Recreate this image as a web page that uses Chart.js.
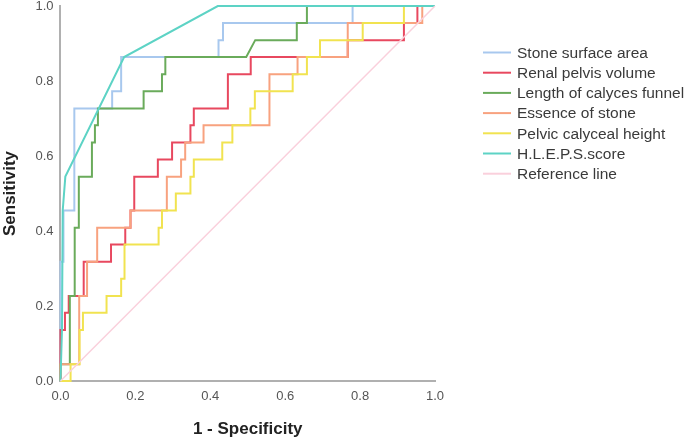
<!DOCTYPE html>
<html>
<head>
<meta charset="utf-8">
<script src="https://cdn.jsdelivr.net/npm/chart.js@4.4.1/dist/chart.umd.min.js"></script>
<style>
  body { margin: 0; background: #fff; }
  #wrap { width: 685px; height: 441px; }
</style>
</head>
<body>
<div id="wrap"><canvas id="rocChart" width="685" height="441"></canvas></div>
<script>
// ROC curves, 1 - specificity on x, sensitivity on y

const seriesNames = ['Stone surface area', 'Renal pelvis volume', 'Length of calyces funnel',
    'Essence of stone', 'Pelvic calyceal height', 'H.L.E.P.S.score', 'Reference line'];
const seriesColours = ['#a8c8ee', '#e8485f', '#6aab5b', '#f8a27f', '#f1e350', '#5dd3c5', '#fad0dc'];
const tickValues = [0, 0.2, 0.4, 0.6, 0.8, 1.0];

const stoneX = [0, 0, 0.008, 0.008, 0.037, 0.037, 0.138, 0.138, 0.162, 0.162, 0.422, 0.422, 0.434, 0.434, 0.78, 0.78, 1];
const stoneY = [0, 0.318, 0.318, 0.455, 0.455, 0.727, 0.727, 0.773, 0.773, 0.864, 0.864, 0.909, 0.909, 0.955, 0.955, 1, 1];

const renalX = [0, 0, 0.012, 0.012, 0.022, 0.022, 0.062, 0.062, 0.135, 0.135, 0.173, 0.173, 0.187, 0.187, 0.197, 0.197,
    0.26, 0.26, 0.298, 0.298, 0.347, 0.347, 0.356, 0.356, 0.447, 0.447, 0.508, 0.508, 0.767, 0.767, 0.917, 0.917, 0.953, 0.953, 1];
const renalY = [0, 0.136, 0.136, 0.182, 0.182, 0.227, 0.227, 0.318, 0.318, 0.364, 0.364, 0.409, 0.409, 0.455, 0.455, 0.545,
    0.545, 0.591, 0.591, 0.636, 0.636, 0.682, 0.682, 0.727, 0.727, 0.818, 0.818, 0.864, 0.864, 0.909, 0.909, 0.955, 0.955, 1, 1];

const funnelX = [0, 0, 0.025, 0.025, 0.038, 0.038, 0.049, 0.049, 0.084, 0.084, 0.092, 0.092, 0.1, 0.1, 0.222, 0.222,
    0.271, 0.271, 0.28, 0.28, 0.496, 0.52, 0.631, 0.631, 0.658, 0.658, 1];
const funnelY = [0, 0.045, 0.045, 0.227, 0.227, 0.409, 0.409, 0.545, 0.545, 0.636, 0.636, 0.682, 0.682, 0.727, 0.727, 0.773,
    0.773, 0.818, 0.818, 0.864, 0.864, 0.909, 0.909, 0.955, 0.955, 1, 1];

const essenceX = [0, 0, 0.05, 0.05, 0.071, 0.071, 0.098, 0.098, 0.187, 0.187, 0.284, 0.284, 0.322, 0.322, 0.333, 0.333,
    0.382, 0.382, 0.558, 0.558, 0.633, 0.633, 0.767, 0.767, 0.966, 0.966, 1];
const essenceY = [0, 0.045, 0.045, 0.227, 0.227, 0.318, 0.318, 0.409, 0.409, 0.455, 0.455, 0.545, 0.545, 0.591, 0.591, 0.636,
    0.636, 0.682, 0.682, 0.818, 0.818, 0.864, 0.864, 0.955, 0.955, 1, 1];

const heightX = [0, 0.027, 0.027, 0.051, 0.051, 0.06, 0.06, 0.123, 0.123, 0.162, 0.162, 0.171, 0.171, 0.262, 0.262, 0.271,
    0.271, 0.308, 0.308, 0.347, 0.347, 0.356, 0.356, 0.432, 0.432, 0.459, 0.459, 0.507, 0.507, 0.519, 0.519, 0.62, 0.62,
    0.658, 0.658, 0.693, 0.693, 0.807, 0.807, 0.917, 0.917, 1];
const heightY = [0, 0, 0.045, 0.045, 0.136, 0.136, 0.182, 0.182, 0.227, 0.227, 0.273, 0.273, 0.364, 0.364, 0.409, 0.409,
    0.455, 0.455, 0.5, 0.5, 0.545, 0.545, 0.591, 0.591, 0.636, 0.636, 0.682, 0.682, 0.727, 0.727, 0.773, 0.773, 0.818,
    0.818, 0.864, 0.864, 0.909, 0.909, 0.955, 0.955, 1, 1];

const scoreX = [0, 0.004, 0.006, 0.013, 0.17, 0.42, 1];
const scoreY = [0, 0.136, 0.455, 0.545, 0.864, 1, 1];

const refX = [0, 1];
const refY = [0, 1];

function toPoints(xs, ys){
    var pts = [];
    for(var i=0; i<xs.length; i++){
        pts.push({x: xs[i], y: ys[i]});
    }
    return pts;
}

const allX = [stoneX, renalX, funnelX, essenceX, heightX, scoreX, refX];
const allY = [stoneY, renalY, funnelY, essenceY, heightY, scoreY, refY];

var datasets = [];
for(var i=0; i<seriesNames.length; i++){
    datasets.push({
        label: seriesNames[i],
        data: toPoints(allX[i], allY[i]),
        borderColor: seriesColours[i],
        backgroundColor: seriesColours[i],
        borderWidth: i == 6 ? 1.5 : 2,
        pointRadius: 0,
        tension: 0,
        fill: false,
        clip: 4,
        // later series sit on top, like the original
        order: seriesNames.length - i
    });
}

// legend drawn by hand so it can sit away from the plot
const sideLegend = {
    id: 'sideLegend',
    afterDraw(chart){
        const ctx = chart.ctx;
        ctx.save();
        ctx.font = '15.5px "Liberation Sans", Arial, sans-serif';
        ctx.textBaseline = 'middle';
        ctx.textAlign = 'left';
        chart.data.datasets.forEach(function(ds, i){
            var y = 52.5 + i * 20.2;
            ctx.strokeStyle = ds.borderColor;
            ctx.lineWidth = 2;
            ctx.beginPath();
            ctx.moveTo(483, y);
            ctx.lineTo(511, y);
            ctx.stroke();
            ctx.fillStyle = '#3a3a3a';
            ctx.fillText(ds.label, 517, y + 1);
        });
        ctx.restore();
    }
};

Chart.defaults.font.family = '"Liberation Sans", Arial, sans-serif';

const rocCtx = document.getElementById('rocChart').getContext('2d');
const rocChart = new Chart(rocCtx, {
    type: 'line',
    data: { datasets: datasets },
    plugins: [sideLegend],
    options: {
        responsive: false,
        animation: false,
        layout: {
            padding: { left: 0, right: 250, top: 0, bottom: 1 }
        },
        plugins: {
            legend: { display: false },
            tooltip: { enabled: false }
        },
        scales: {
            x: {
                type: 'linear',
                min: 0,
                max: 1,
                afterBuildTicks: function(scale){
                    scale.ticks = tickValues.map(function(v){ return {value: v}; });
                },
                grid: { display: false, drawTicks: false },
                border: { display: true, color: '#b0b0b0', width: 2 },
                ticks: {
                    padding: 8,
                    color: '#555',
                    font: { size: 13 },
                    callback: function(v){ return Number(v).toFixed(1); }
                },
                title: {
                    display: true,
                    text: '1 - Specificity',
                    color: '#222',
                    font: { size: 17, weight: 'bold' },
                    padding: { top: 7, bottom: 0 }
                }
            },
            y: {
                type: 'linear',
                min: 0,
                max: 1,
                afterBuildTicks: function(scale){
                    scale.ticks = tickValues.map(function(v){ return {value: v}; });
                },
                afterFit: function(scale){
                    scale.paddingTop = 6;
                },
                grid: { display: false, drawTicks: false },
                border: { display: true, color: '#b0b0b0', width: 2 },
                ticks: {
                    padding: 7,
                    color: '#555',
                    font: { size: 13 },
                    callback: function(v){ return Number(v).toFixed(1); }
                },
                title: {
                    display: true,
                    text: 'Sensitivity',
                    color: '#222',
                    font: { size: 17, weight: 'bold' },
                    padding: { top: 0, bottom: 8 }
                }
            }
        }
    }
});
</script>
</body>
</html>
